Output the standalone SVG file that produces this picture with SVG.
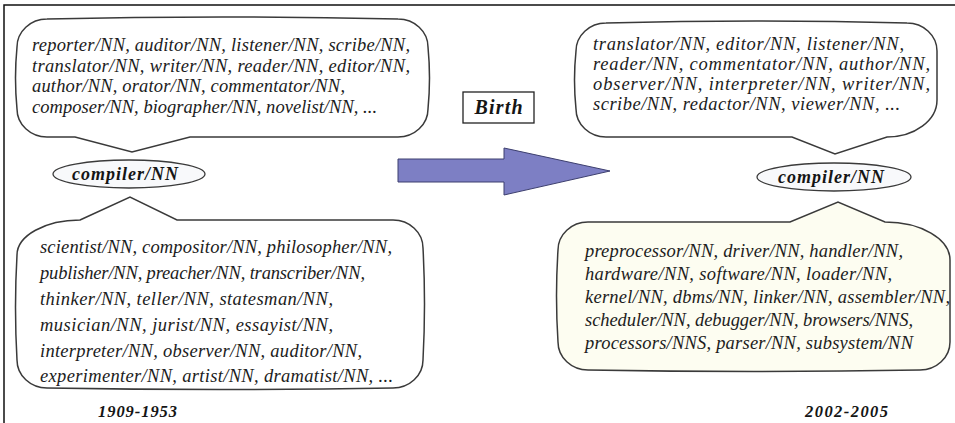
<svg xmlns="http://www.w3.org/2000/svg" width="955" height="423" viewBox="0 0 955 423">
<style>
.bg{fill:#ffffff}
.frame{fill:none;stroke:#111;stroke-width:1.5}
.callout{fill:#ffffff;stroke:#3a3a3a;stroke-width:1.5}
.cream{fill:#fdfdf1}
.ell{fill:#f8f9fb;stroke:#3a3a3a;stroke-width:1.3}
.t{font-family:"Liberation Serif","Times New Roman",serif;font-style:italic;font-size:18.5px;fill:#1c1c1c}
.b{font-family:"Liberation Serif","Times New Roman",serif;font-style:italic;font-weight:bold;fill:#151515}
.arrow{fill:#7d7fc4;stroke:#3d3f6e;stroke-width:1}
.box{fill:#fff;stroke:#222;stroke-width:1.3}
</style>
<rect class="bg" x="0" y="0" width="955" height="423"/>
<path class="frame" d="M4 423 L4 5 L955 5"/>

<g id="connectors">
  <polygon class="arrow" points="398,159 504,159 504,148 610,171 504,195 504,182 398,182"/>
</g>

<g id="birth">
  <rect class="box" x="463" y="92" width="71" height="31"/>
  <text class="b" x="498.5" y="113.5" font-size="20" text-anchor="middle" textLength="48">Birth</text>
</g>

<g id="callout-top-left">
  <path class="callout" d="M47 19 Q222 15 398 19 A30 28 0 0 1 428 47 Q431 78 428 109 A30 28 0 0 1 398 137 L190 137 L132 152 L75 137 L47 137 A30 28 0 0 1 17 109 Q14 78 17 47 A30 28 0 0 1 47 19 Z"/>
  <text class="t" x="32" y="51" textLength="378">reporter/NN, auditor/NN, listener/NN, scribe/NN,</text>
  <text class="t" x="32" y="71.5" textLength="378">translator/NN, writer/NN, reader/NN, editor/NN,</text>
  <text class="t" x="32" y="92" textLength="313">author/NN, orator/NN, commentator/NN,</text>
  <text class="t" x="32" y="112.5" textLength="345">composer/NN, biographer/NN, novelist/NN, ...</text>
</g>

<g id="compiler-left">
  <ellipse class="ell" cx="129" cy="174" rx="76" ry="14"/>
  <text class="b" x="125" y="180" font-size="18" text-anchor="middle" textLength="106">compiler/NN</text>
</g>

<g id="callout-bottom-left">
  <path class="callout" d="M80 220 L130 197 L177 220 L393 220 A30 28 0 0 1 423 248 Q426 304 423 360 A30 28 0 0 1 393 388 Q220 391 47 388 A30 28 0 0 1 17 360 Q14 307 17 255 A63 35 0 0 1 80 220 Z"/>
  <text class="t" x="40" y="253" textLength="352">scientist/NN, compositor/NN, philosopher/NN,</text>
  <text class="t" x="40" y="279" textLength="325">publisher/NN, preacher/NN, transcriber/NN,</text>
  <text class="t" x="40" y="305" textLength="293">thinker/NN, teller/NN, statesman/NN,</text>
  <text class="t" x="40" y="331" textLength="293">musician/NN, jurist/NN, essayist/NN,</text>
  <text class="t" x="40" y="357" textLength="322">interpreter/NN, observer/NN, auditor/NN,</text>
  <text class="t" x="40" y="382" textLength="353">experimenter/NN, artist/NN, dramatist/NN, ...</text>
</g>

<g id="year-left">
  <text class="b" x="98" y="417" font-size="16.5" textLength="79">1909-1953</text>
</g>

<g id="callout-top-right">
  <path class="callout" d="M606 23 Q756 19 907 23 A30 28 0 0 1 937 51 L937 100 A50 37 0 0 1 887 137 L835 154 L792 137 L606 137 A30 28 0 0 1 576 109 Q573 80 576 51 A30 28 0 0 1 606 23 Z"/>
  <text class="t" x="593" y="50" textLength="311">translator/NN, editor/NN, listener/NN,</text>
  <text class="t" x="593" y="70" textLength="337">reader/NN, commentator/NN, author/NN,</text>
  <text class="t" x="593" y="90" textLength="337">observer/NN, interpreter/NN, writer/NN,</text>
  <text class="t" x="593" y="110" textLength="307">scribe/NN, redactor/NN, viewer/NN, ...</text>
</g>

<g id="compiler-right">
  <ellipse class="ell" cx="834" cy="177" rx="77" ry="14"/>
  <text class="b" x="831" y="183" font-size="18" text-anchor="middle" textLength="106">compiler/NN</text>
</g>

<g id="callout-bottom-right">
  <path class="callout cream" d="M588 222 L790 222 L838 202 L885 222 A65 38 0 0 1 950 260 L950 342 A30 28 0 0 1 920 370 Q754 373 588 370 A30 28 0 0 1 558 342 Q555 296 558 250 A30 28 0 0 1 588 222 Z"/>
  <text class="t" x="585" y="257" textLength="318">preprocessor/NN, driver/NN, handler/NN,</text>
  <text class="t" x="585" y="280" textLength="307">hardware/NN, software/NN, loader/NN,</text>
  <text class="t" x="585" y="303" textLength="365">kernel/NN, dbms/NN, linker/NN, assembler/NN,</text>
  <text class="t" x="585" y="326" textLength="328">scheduler/NN, debugger/NN, browsers/NNS,</text>
  <text class="t" x="585" y="349" textLength="328">processors/NNS, parser/NN, subsystem/NN</text>
</g>

<g id="year-right">
  <text class="b" x="805" y="417" font-size="16.5" textLength="83">2002-2005</text>
</g>
</svg>
